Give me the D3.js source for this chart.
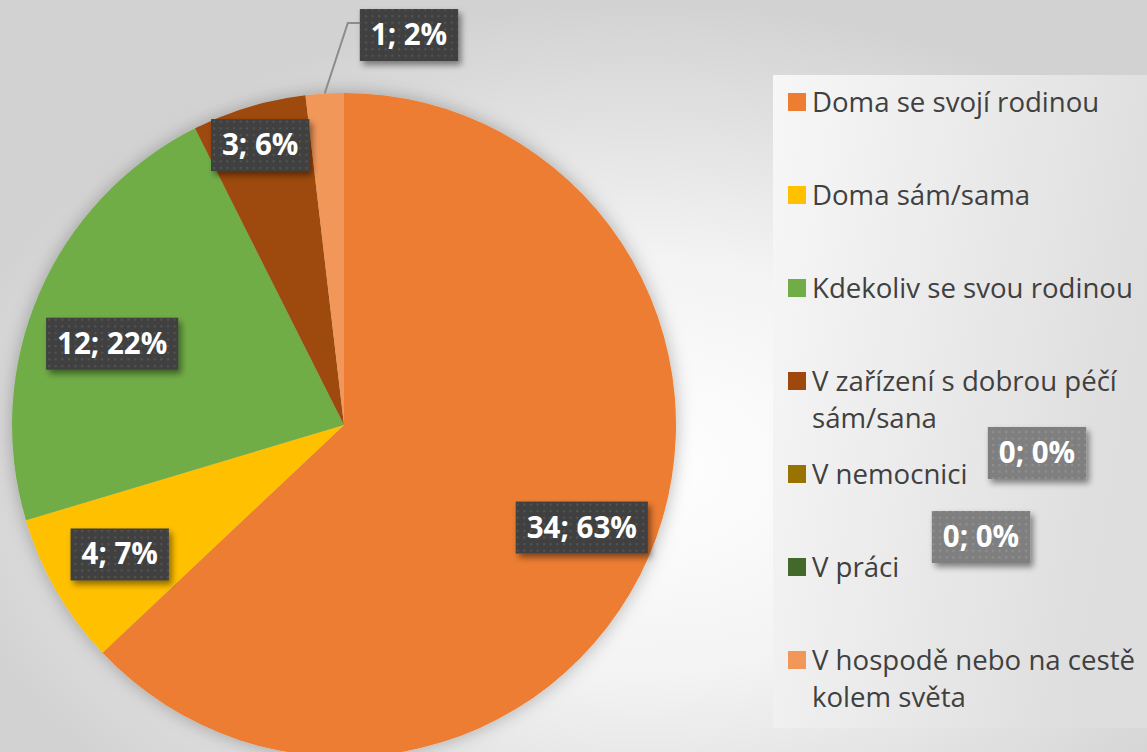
<!DOCTYPE html>
<html>
<head>
<meta charset="utf-8">
<script src="https://cdn.jsdelivr.net/npm/d3@7/dist/d3.min.js"></script>
<style>
  html, body { margin: 0; padding: 0; background: #e6e6e6; }
  svg { display: block; }
  text { font-family: "Open Sans", "Noto Sans", sans-serif; }
</style>
</head>
<body>
<div id="chart"></div>
<script>
// data
const categories = [
    'Doma se svojí rodinou',
    'Doma sám/sama',
    'Kdekoliv se svou rodinou',
    'V zařízení s dobrou péčí sám/sana',
    'V nemocnici',
    'V práci',
    'V hospodě nebo na cestě kolem světa'
];
const counts = [34, 4, 12, 3, 0, 0, 1];
const percents = ['63%', '7%', '22%', '6%', '0%', '0%', '2%'];
const colors = ['#ED7D31', '#FFC000', '#70AD47', '#9E480E', '#997300', '#43682B', '#F1975A'];

const width = 1147, height = 752;
const cx = 344, cy = 425, R = 332;

// labels Excel pushed out of the pie (box centres)
const outsideLabels = {
    4: { x: 1037, y: 453, muted: true },
    5: { x: 981, y: 537, muted: true },
    6: { x: 409, y: 35, leader: true }
};

const svg = d3.select('#chart')
    .append('svg')
    .attr('width', width)
    .attr('height', height);

const defs = svg.append('defs');

const bg = defs.append('radialGradient')
    .attr('id', 'bg')
    .attr('cx', 0.56).attr('cy', 0.62).attr('r', 0.62);
bg.append('stop').attr('offset', 0).attr('stop-color', '#ffffff');
bg.append('stop').attr('offset', 0.45).attr('stop-color', '#f3f3f3');
bg.append('stop').attr('offset', 1).attr('stop-color', '#d2d2d2');

const lg = defs.append('linearGradient')
    .attr('id', 'legendBg')
    .attr('x1', 0).attr('y1', 0).attr('x2', 1).attr('y2', 0.3);
lg.append('stop').attr('offset', 0).attr('stop-color', '#f7f7f7');
lg.append('stop').attr('offset', 1).attr('stop-color', '#dedede');

const pieShadow = defs.append('filter')
    .attr('id', 'pieShadow')
    .attr('x', -0.2).attr('y', -0.2).attr('width', 1.4).attr('height', 1.4);
pieShadow.append('feDropShadow')
    .attr('dx', 0).attr('dy', 0)
    .attr('stdDeviation', 9)
    .attr('flood-color', '#000')
    .attr('flood-opacity', 0.28);

const boxShadow = defs.append('filter')
    .attr('id', 'boxShadow')
    .attr('x', -0.2).attr('y', -0.3).attr('width', 1.5).attr('height', 1.7);
boxShadow.append('feDropShadow')
    .attr('dx', 3).attr('dy', 4)
    .attr('stdDeviation', 3)
    .attr('flood-color', '#000')
    .attr('flood-opacity', 0.45);

function dotPattern(id, base, dot) {
    const p = defs.append('pattern')
        .attr('id', id)
        .attr('patternUnits', 'userSpaceOnUse')
        .attr('width', 6.6).attr('height', 6.6);
    p.append('rect').attr('width', 6.6).attr('height', 6.6).attr('fill', base);
    p.append('rect').attr('x', 2).attr('y', 2).attr('width', 2).attr('height', 2).attr('fill', dot);
}
dotPattern('dotsDark', '#404040', '#555555');
dotPattern('dotsGray', '#7f7f7f', '#929292');

svg.append('rect')
    .attr('width', width).attr('height', height)
    .attr('fill', 'url(#bg)');

// legend panel
svg.append('rect')
    .attr('x', 773).attr('y', 75)
    .attr('width', width - 773).attr('height', 653)
    .attr('fill', 'url(#legendBg)');

// pie
const data = categories.map((c, i) => ({ name: c, value: counts[i], pct: percents[i], color: colors[i], index: i }));

const pie = d3.pie()
    .sort(null)
    .value(d => d.value);

const arcs = pie(data);

const arc = d3.arc().innerRadius(0).outerRadius(R);

const g = svg.append('g')
    .attr('transform', `translate(${cx},${cy})`);

g.append('g')
    .attr('filter', 'url(#pieShadow)')
    .selectAll('path')
    .data(arcs.filter(d => d.value > 0))
    .enter()
    .append('path')
    .attr('d', arc)
    .attr('fill', d => d.data.color);

// legend
const legend = svg.append('g').attr('class', 'legend');
const rowStep = 93, firstRow = 102, maxTextWidth = 338;

data.forEach((d, i) => {
    const yc = firstRow + i * rowStep;
    const item = legend.append('g');
    item.append('rect')
        .attr('x', 788).attr('y', yc - 9)
        .attr('width', 18).attr('height', 18)
        .attr('fill', d.color);

    const text = item.append('text')
        .attr('x', 812)
        .attr('y', yc + 10)
        .attr('fill', '#404040')
        .style('font-size', '27.6px');

    // simple word wrap
    const words = d.name.split(' ');
    let line = [];
    let tspan = text.append('tspan').attr('x', 812).attr('dy', 0);
    words.forEach(w => {
        line.push(w);
        tspan.text(line.join(' '));
        if (tspan.node().getComputedTextLength() > maxTextWidth && line.length > 1) {
            line.pop();
            tspan.text(line.join(' '));
            line = [w];
            tspan = text.append('tspan').attr('x', 812).attr('dy', 37).text(w);
        }
    });
});

// data labels
const labelLayer = svg.append('g').attr('class', 'labels');

function drawLabel(x, y, txt, muted) {
    const lab = labelLayer.append('g');
    const rect = lab.append('rect')
        .attr('fill', muted ? 'url(#dotsGray)' : 'url(#dotsDark)')
        .attr('filter', 'url(#boxShadow)');
    const t = lab.append('text')
        .attr('x', x)
        .attr('y', y + 10)
        .attr('text-anchor', 'middle')
        .attr('fill', '#ffffff')
        .style('font-size', '29.5px')
        .style('font-weight', 700)
        .text(txt);
    const w = t.node().getComputedTextLength() + 22;
    rect.attr('x', x - w / 2).attr('y', y - 26)
        .attr('width', w).attr('height', 52);
    return w;
}

arcs.forEach(d => {
    const i = d.data.index;
    const txt = `${d.data.value}; ${d.data.pct}`;
    const out = outsideLabels[i];
    if (out) {
        if (out.leader) {
            const w = labelLayer.append('g');
            const edge = d3.arc().innerRadius(R).outerRadius(R).centroid(d);
            // measure box first to find its left edge
            const tmp = svg.append('text').style('font-size', '29.5px').style('font-weight', 700).text(txt);
            const bw = tmp.node().getComputedTextLength() + 22;
            tmp.remove();
            const left = out.x - bw / 2;
            w.append('polyline')
                .attr('points', [[cx + edge[0], cy + edge[1]], [left - 12, out.y - 12], [left, out.y - 12]].map(p => p.join(',')).join(' '))
                .attr('fill', 'none')
                .attr('stroke', '#8c8c8c')
                .attr('stroke-width', 2);
        }
        drawLabel(out.x, out.y, txt, out.muted);
    } else {
        const span = d.endAngle - d.startAngle;
        const lr = span < 0.4 ? R * 0.88 : (span > 1 && span < 2 ? R * 0.74 : R * 0.78);
        // nudge the mid angle a little towards the larger neighbour, as Excel's best fit does
        const mid = (d.startAngle + d.endAngle) / 2 + (span > 1 && span < 2 ? -0.07 : 0);
        drawLabel(cx + lr * Math.sin(mid), cy - lr * Math.cos(mid), txt, false);
    }
});
</script>
</body>
</html>
